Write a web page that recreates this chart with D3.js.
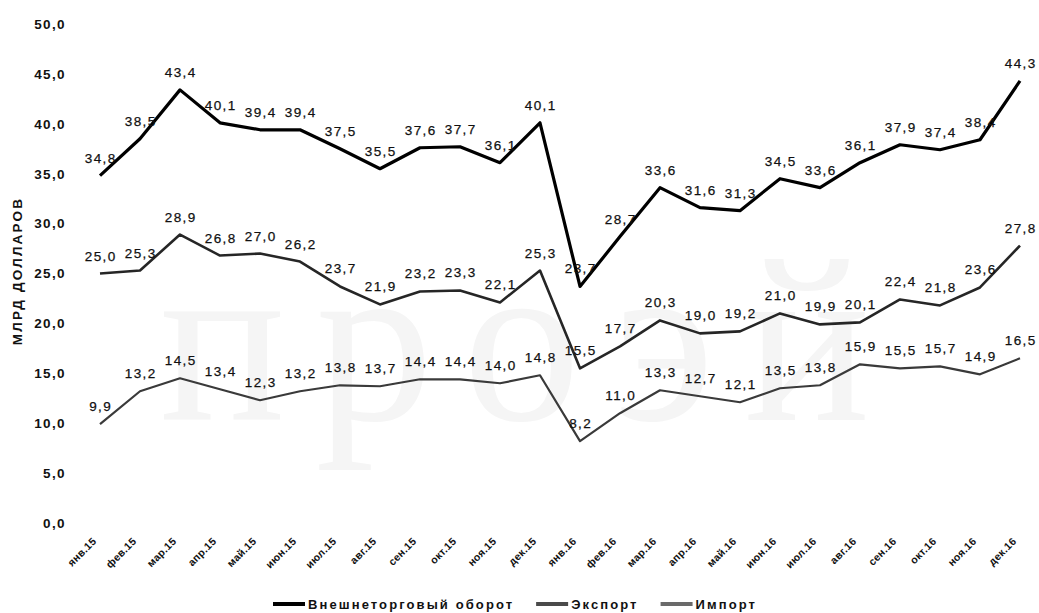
<!DOCTYPE html>
<html>
<head>
<meta charset="utf-8">
<script src="https://cdn.jsdelivr.net/npm/d3@7"></script>
<style>
  html, body { margin: 0; padding: 0; background: #fff; }
  svg { display: block; font-family: "Liberation Sans", Arial, sans-serif; }
</style>
</head>
<body>
<svg id="chart" width="1039" height="613"></svg>
<script>
// Месяцы 2015–2016
const months = ["янв.15","фев.15","мар.15","апр.15","май.15","июн.15","июл.15","авг.15","сен.15","окт.15","ноя.15","дек.15",
                "янв.16","фев.16","мар.16","апр.16","май.16","июн.16","июл.16","авг.16","сен.16","окт.16","ноя.16","дек.16"];

// Внешнеторговый оборот, млрд долларов
const turnover = [34.8,38.5,43.4,40.1,39.4,39.4,37.5,35.5,37.6,37.7,36.1,40.1,
                  23.7,28.7,33.6,31.6,31.3,34.5,33.6,36.1,37.9,37.4,38.4,44.3];
// Экспорт
const exportVals = [25.0,25.3,28.9,26.8,27.0,26.2,23.7,21.9,23.2,23.3,22.1,25.3,
                    15.5,17.7,20.3,19.0,19.2,21.0,19.9,20.1,22.4,21.8,23.6,27.8];
// Импорт
const importVals = [9.9,13.2,14.5,13.4,12.3,13.2,13.8,13.7,14.4,14.4,14.0,14.8,
                    8.2,11.0,13.3,12.7,12.1,13.5,13.8,15.9,15.5,15.7,14.9,16.5];

const yTicks = [0,5,10,15,20,25,30,35,40,45,50];
const seriesNames = ["Внешнеторговый оборот","Экспорт","Импорт"];
const axisTitle = "МЛРД ДОЛЛАРОВ";

const series = [
  { name: seriesNames[0], values: turnover,   color: "#000000", width: 3.2, legendColor: "#000000" },
  { name: seriesNames[1], values: exportVals, color: "#262626", width: 2.6, legendColor: "#4a4a4a" },
  { name: seriesNames[2], values: importVals, color: "#3a3a3a", width: 2.2, legendColor: "#6a6a6a" }
];

const svg = d3.select("#chart");
const fmt = v => d3.format(".1f")(v).replace(".", ",");

const x = d3.scaleBand().domain(months).range([80, 1040]).padding(0);
const y = d3.scaleLinear().domain([0, 50]).range([523, 24]);
const cx = m => x(m) + x.bandwidth() / 2;

// Бледный фоновый знак
svg.append("text")
  .attr("x", 530).attr("y", 420)
  .attr("text-anchor", "middle")
  .attr("font-family", "Liberation Serif, serif")
  .attr("font-size", 235)
  .attr("letter-spacing", 30)
  .attr("fill", "#f5f5f5")
  .text("проэй");

// Ось Y
const yAxis = svg.append("g")
  .attr("transform", "translate(72,0)")
  .call(d3.axisLeft(y).tickValues(yTicks).tickSize(0).tickPadding(6).tickFormat(fmt));
yAxis.select(".domain").remove();
yAxis.selectAll("text")
  .attr("font-size", 13.5)
  .attr("font-weight", "bold")
  .attr("letter-spacing", 1.4)
  .attr("fill", "#111")
  .attr("font-family", "Liberation Sans, Arial, sans-serif");

svg.append("text")
  .attr("transform", "translate(22,271) rotate(-90)")
  .attr("text-anchor", "middle")
  .attr("font-size", 13.5)
  .attr("font-weight", "bold")
  .attr("letter-spacing", 2.2)
  .attr("fill", "#111")
  .text(axisTitle);

// Ось X
const xAxis = svg.append("g")
  .attr("transform", "translate(0,533)")
  .call(d3.axisBottom(x).tickSize(0).tickPadding(0));
xAxis.select(".domain").remove();
xAxis.selectAll("text")
  .attr("font-size", 10.5)
  .attr("font-weight", "bold")
  .attr("letter-spacing", 0.3)
  .attr("fill", "#111")
  .attr("font-family", "Liberation Sans, Arial, sans-serif")
  .attr("text-anchor", "end")
  .attr("dy", null)
  .attr("transform", "translate(-3,9) rotate(-45)");

// Линии
const line = d3.line()
  .x((d, i) => cx(months[i]))
  .y(d => y(d));

series.slice().reverse().forEach(s => {
  svg.append("path")
    .datum(s.values)
    .attr("fill", "none")
    .attr("stroke", s.color)
    .attr("stroke-width", s.width)
    .attr("stroke-linejoin", "round")
    .attr("stroke-linecap", "butt")
    .attr("d", line);
});

// Подписи значений
series.forEach(s => {
  svg.append("g").selectAll("text")
    .data(s.values)
    .join("text")
    .attr("x", (d, i) => cx(months[i]) + 0.7)
    .attr("y", d => y(d) - 13)
    .attr("text-anchor", "middle")
    .attr("font-size", 13.5)
    .attr("letter-spacing", 1.4)
    .attr("fill", "#111")
    .attr("stroke", "#111")
    .attr("stroke-width", 0.25)
    .text(d => fmt(d));
});

// Легенда
const legend = svg.append("g").attr("transform", "translate(273,604)");
let lx = 0;
series.forEach(s => {
  legend.append("line")
    .attr("x1", lx).attr("x2", lx + 32)
    .attr("y1", 0).attr("y2", 0)
    .attr("stroke", s.legendColor)
    .attr("stroke-width", 4);
  const t = legend.append("text")
    .attr("x", lx + 35).attr("y", 4.5)
    .attr("font-size", 13)
    .attr("font-weight", "bold")
    .attr("letter-spacing", 2.1)
    .attr("fill", "#111")
    .text(s.name);
  lx += 35 + t.node().getComputedTextLength() + 22;
});
</script>
</body>
</html>
